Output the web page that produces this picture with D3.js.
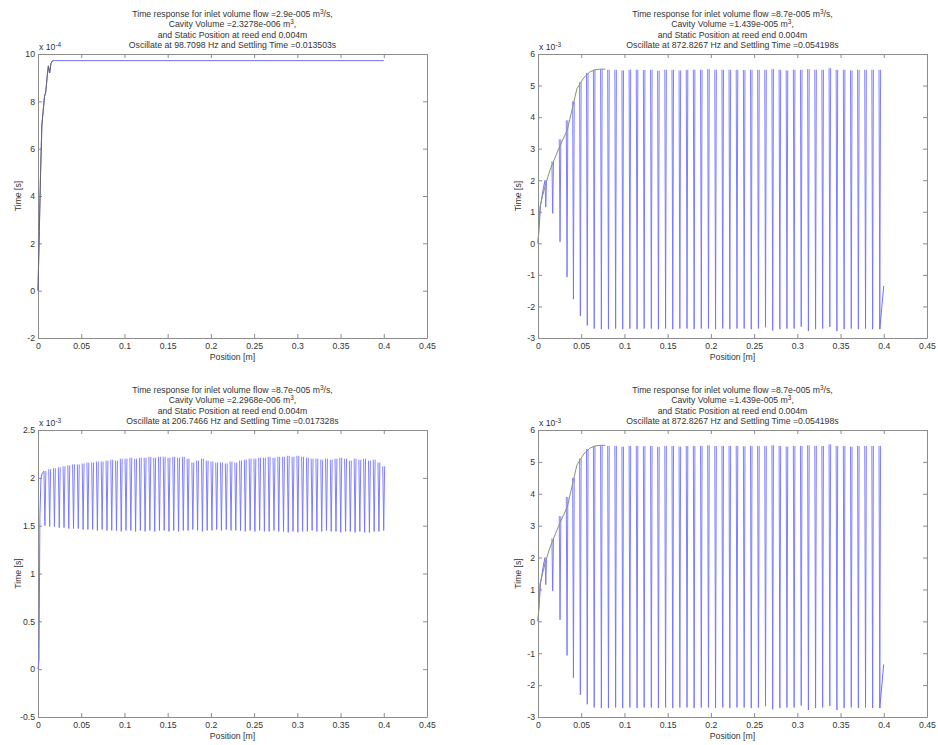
<!DOCTYPE html>
<html>
<head>
<meta charset="utf-8">
<script src="https://cdn.jsdelivr.net/npm/d3@7"></script>
<style>
body { margin: 0; background: #fff; }
text { font-family: "Liberation Sans", Arial, sans-serif; fill: #333; }
.axis path, .axis line { stroke: #8c8c8c; fill: none; }
.axis text { font-size: 8.7px; font-family: "Liberation Sans", Arial, sans-serif; fill: #333; }
</style>
</head>
<body>
<svg id="chart" width="938" height="745"></svg>
<script>
// four matlab-style subplots

// tick values and labels
let xTicks = [0, 0.05, 0.1, 0.15, 0.2, 0.25, 0.3, 0.35, 0.4, 0.45];
let xTickLabels = ["0", "0.05", "0.1", "0.15", "0.2", "0.25", "0.3", "0.35", "0.4", "0.45"];
let tlYTicks = [-2, 0, 2, 4, 6, 8, 10];
let tlYLabels = ["-2", "0", "2", "4", "6", "8", "10"];
let trYTicks = [-3, -2, -1, 0, 1, 2, 3, 4, 5, 6];
let trYLabels = ["-3", "-2", "-1", "0", "1", "2", "3", "4", "5", "6"];
let blYTicks = [-0.5, 0, 0.5, 1, 1.5, 2, 2.5];
let blYLabels = ["-0.5", "0", "0.5", "1", "1.5", "2", "2.5"];

// titles (^{..} = superscript)
let tlTitle = [
    "Time response for inlet volume flow =2.9e-005 m^{3}/s,",
    "Cavity Volume =2.3278e-006 m^{3},",
    "and Static Position at reed end 0.004m",
    "Oscillate at 98.7098 Hz and Settling Time =0.013503s"
];
let trTitle = [
    "Time response for inlet volume flow =8.7e-005 m^{3}/s,",
    "Cavity Volume =1.439e-005 m^{3},",
    "and Static Position at reed end 0.004m",
    "Oscillate at 872.8267 Hz and Settling Time =0.054198s"
];
let blTitle = [
    "Time response for inlet volume flow =8.7e-005 m^{3}/s,",
    "Cavity Volume =2.2968e-006 m^{3},",
    "and Static Position at reed end 0.004m",
    "Oscillate at 206.7466 Hz and Settling Time =0.017328s"
];

// top-left: response (x 1e-4)
let tlBlueX = [0, 0.0015, 0.003, 0.0045, 0.006, 0.0075, 0.009, 0.0105, 0.012, 0.0135, 0.015, 0.0165, 0.018, 0.4];
let tlBlueY = [0, 2.5, 5.0, 7.0, 7.6, 8.2, 8.4, 9.0, 9.5, 9.2, 9.6, 9.7, 9.72, 9.72];
let tlEnvX = [0, 0.0015, 0.003, 0.0045, 0.006, 0.0075, 0.009, 0.0105, 0.012, 0.0135, 0.015, 0.0165, 0.018];
let tlEnvY = [0, 2.5, 5.0, 7.0, 7.6, 8.2, 8.4, 9.0, 9.5, 9.2, 9.6, 9.7, 9.72];

// top-right / bottom-right: oscillation spikes (x 1e-3)
let trSpikeX = [0.0090, 0.0170, 0.0255, 0.0336, 0.0410, 0.0490, 0.0570,
    0.0650, 0.0733, 0.0815, 0.0898, 0.0980, 0.1063, 0.1146, 0.1228, 0.1311, 0.1393,
    0.1476, 0.1559, 0.1641, 0.1724, 0.1806, 0.1889, 0.1972, 0.2054, 0.2137, 0.2219,
    0.2302, 0.2385, 0.2467, 0.2550, 0.2632, 0.2715, 0.2798, 0.2880, 0.2963, 0.3045,
    0.3128, 0.3211, 0.3293, 0.3376, 0.3458, 0.3541, 0.3624, 0.3706, 0.3789, 0.3871, 0.3954];
let trSpikeTop = [2.0, 2.6, 3.3, 3.9, 4.5, 5.1, 5.4,
    5.5, 5.52, 5.5, 5.5, 5.48, 5.5, 5.5, 5.49, 5.5, 5.47,
    5.5, 5.5, 5.48, 5.5, 5.5, 5.5, 5.52, 5.5, 5.5, 5.5,
    5.5, 5.49, 5.5, 5.5, 5.5, 5.52, 5.5, 5.48, 5.5, 5.5,
    5.52, 5.5, 5.5, 5.55, 5.5, 5.5, 5.48, 5.5, 5.5, 5.5, 5.5];
let trSpikeBot = [1.15, 0.95, 0.05, -1.07, -1.77, -2.3, -2.6,
    -2.7, -2.72, -2.72, -2.7, -2.72, -2.7, -2.72, -2.7, -2.7, -2.72,
    -2.7, -2.72, -2.7, -2.7, -2.72, -2.7, -2.7, -2.72, -2.7, -2.72,
    -2.7, -2.7, -2.72, -2.7, -2.66, -2.76, -2.72, -2.7, -2.7, -2.64,
    -2.78, -2.72, -2.7, -2.65, -2.78, -2.72, -2.7, -2.72, -2.7, -2.72, -2.72];
let trRiseX = [0, 0.003, 0.0065, 0.0082];
let trRiseY = [0, 1.2, 1.8, 2.0];
let trTailX = [0.3954, 0.3999];
let trTailY = [-2.72, -1.35];
let trEnvX = [0, 0.0023, 0.008, 0.014, 0.024, 0.034, 0.045, 0.053, 0.06, 0.066, 0.072, 0.078];
let trEnvY = [0, 1.17, 1.8, 2.33, 3.0, 3.6, 4.9, 5.25, 5.43, 5.5, 5.52, 5.52];

// bottom-left: oscillation spikes (x 1e-3)
let blSpikeX = [0.0080, 0.0135, 0.0190, 0.0246, 0.0301, 0.0356, 0.0411, 0.0466, 0.0522, 0.0577,
    0.0632, 0.0687, 0.0742, 0.0798, 0.0853, 0.0908, 0.0963, 0.1018, 0.1074, 0.1129,
    0.1184, 0.1239, 0.1294, 0.1350, 0.1405, 0.1460, 0.1515, 0.1570, 0.1626, 0.1681,
    0.1736, 0.1791, 0.1846, 0.1902, 0.1957, 0.2012, 0.2067, 0.2122, 0.2178, 0.2233,
    0.2288, 0.2343, 0.2398, 0.2454, 0.2509, 0.2564, 0.2619, 0.2674, 0.2730, 0.2785,
    0.2840, 0.2895, 0.2950, 0.3006, 0.3061, 0.3116, 0.3171, 0.3226, 0.3282, 0.3337,
    0.3392, 0.3447, 0.3502, 0.3558, 0.3613, 0.3668, 0.3723, 0.3778, 0.3834, 0.3889,
    0.3944, 0.3999];
let blSpikeTop = [2.07, 2.09, 2.10, 2.11, 2.12, 2.13, 2.14, 2.14, 2.15, 2.16,
    2.16, 2.17, 2.17, 2.18, 2.19, 2.18, 2.2, 2.2, 2.21, 2.2,
    2.21, 2.21, 2.22, 2.21, 2.22, 2.22, 2.21, 2.22, 2.21, 2.22,
    2.2, 2.16, 2.18, 2.2, 2.18, 2.17, 2.16, 2.16, 2.15, 2.17,
    2.16, 2.18, 2.19, 2.2, 2.2, 2.21, 2.21, 2.22, 2.21, 2.22,
    2.22, 2.23, 2.22, 2.23, 2.22, 2.21, 2.2, 2.2, 2.19, 2.2,
    2.19, 2.2, 2.21, 2.2, 2.18, 2.2, 2.19, 2.2, 2.18, 2.19,
    2.16, 2.12];
let blSpikeBot = [1.5, 1.49, 1.49, 1.48, 1.48, 1.47, 1.47, 1.47, 1.46, 1.46,
    1.46, 1.45, 1.46, 1.45, 1.45, 1.45, 1.44, 1.45, 1.45, 1.44,
    1.45, 1.44, 1.45, 1.44, 1.45, 1.45, 1.44, 1.45, 1.44, 1.45,
    1.45, 1.46, 1.45, 1.44, 1.45, 1.45, 1.46, 1.45, 1.46, 1.45,
    1.45, 1.45, 1.44, 1.45, 1.44, 1.45, 1.44, 1.44, 1.45, 1.44,
    1.44, 1.43, 1.44, 1.43, 1.44, 1.44, 1.45, 1.44, 1.44, 1.45,
    1.44, 1.44, 1.43, 1.44, 1.44, 1.43, 1.44, 1.43, 1.43, 1.44,
    1.44, 1.45];
let blRiseX = [0, 0.0012, 0.0022, 0.0035, 0.0050, 0.0070];
let blRiseY = [0, 0.1, 1.6, 2.0, 2.05, 2.07];

let blue = "#7272ff";
let envColor = "#8c9472";

let svg = d3.select("#chart");

function addText(sel, str) {
    // split "^{..}" into superscript tspans
    let parts = str.split(/\^\{(.*?)\}/);
    parts.forEach(function(p, i) {
        if (i % 2 === 1) {
            sel.append("tspan").attr("dy", -3.5).attr("font-size", "6.5px").text(p);
        } else if (p.length) {
            sel.append("tspan").attr("dy", i > 0 ? 3.5 : 0).text(p);
        }
    });
}

function drawPanel(cfg) {
    let g = svg.append("g")
        .attr("transform", "translate(" + cfg.left + "," + cfg.top + ")");

    let x = d3.scaleLinear().domain([0, 0.45]).range([0, cfg.width]);
    let y = d3.scaleLinear().domain(cfg.yDomain).range([cfg.height, 0]);

    // box + inward ticks
    g.append("g").attr("class", "axis")
        .attr("transform", "translate(0," + cfg.height + ")")
        .call(d3.axisBottom(x).tickValues(xTicks).tickSizeInner(-4).tickSizeOuter(0).tickPadding(5)
            .tickFormat((d, i) => xTickLabels[i]));
    g.append("g").attr("class", "axis")
        .call(d3.axisTop(x).tickValues(xTicks).tickSizeInner(-4).tickSizeOuter(0).tickFormat(""));
    g.append("g").attr("class", "axis")
        .call(d3.axisLeft(y).tickValues(cfg.yTicks).tickSizeInner(-4).tickSizeOuter(0).tickPadding(3)
            .tickFormat((d, i) => cfg.yLabels[i]));
    g.append("g").attr("class", "axis")
        .attr("transform", "translate(" + cfg.width + ",0)")
        .call(d3.axisRight(y).tickValues(cfg.yTicks).tickSizeInner(-4).tickSizeOuter(0).tickFormat(""));

    // exponent
    let ex = g.append("text").attr("x", 1).attr("y", -4).attr("font-size", "8.7px");
    addText(ex, "x 10^{" + cfg.exp + "}");

    // title
    cfg.title.forEach(function(line, i) {
        let t = g.append("text")
            .attr("x", cfg.width / 2)
            .attr("y", -37 + i * 10.4)
            .attr("text-anchor", "middle")
            .attr("font-size", "8.7px");
        addText(t, line);
    });

    g.append("text")
        .attr("x", cfg.width / 2)
        .attr("y", cfg.height + 22)
        .attr("text-anchor", "middle")
        .attr("font-size", "8.7px")
        .text("Position [m]");

    g.append("text")
        .attr("transform", "translate(-17," + (cfg.height / 2) + ") rotate(-90)")
        .attr("text-anchor", "middle")
        .attr("font-size", "8.7px")
        .text("Time [s]");

    return {g: g, x: x, y: y};
}

function drawLine(p, xs, ys, color) {
    let line = d3.line().x(d => p.x(d[0])).y(d => p.y(d[1]));
    p.g.append("path")
        .datum(xs.map((v, i) => [v, ys[i]]))
        .attr("d", line)
        .attr("fill", "none")
        .attr("stroke", color)
        .attr("stroke-width", 1);
}

function drawSpikes(p, xs, tops, bots, hw) {
    let line = d3.line().x(d => p.x(d[0])).y(d => p.y(d[1]));
    p.g.append("g").selectAll("path")
        .data(xs.map((v, i) => [[v - hw, tops[i]], [v, bots[i]], [v + hw, tops[i]]]))
        .join("path")
        .attr("d", line)
        .attr("fill", "none")
        .attr("stroke", blue)
        .attr("stroke-width", 0.9);
}

let tl = drawPanel({left: 38, top: 54, width: 389, height: 284, yDomain: [-2, 10],
    yTicks: tlYTicks, yLabels: tlYLabels, exp: "-4", title: tlTitle});
drawLine(tl, tlBlueX, tlBlueY, blue);
drawLine(tl, tlEnvX, tlEnvY, "#666");

let tr = drawPanel({left: 538, top: 54, width: 389, height: 284, yDomain: [-3, 6],
    yTicks: trYTicks, yLabels: trYLabels, exp: "-3", title: trTitle});
drawLine(tr, trRiseX, trRiseY, blue);
drawSpikes(tr, trSpikeX, trSpikeTop, trSpikeBot, 0.0009);
drawLine(tr, trTailX, trTailY, blue);
drawLine(tr, trEnvX, trEnvY, envColor);

let bl = drawPanel({left: 38, top: 430, width: 389, height: 287, yDomain: [-0.5, 2.5],
    yTicks: blYTicks, yLabels: blYLabels, exp: "-3", title: blTitle});
drawLine(bl, blRiseX, blRiseY, blue);
drawSpikes(bl, blSpikeX, blSpikeTop, blSpikeBot, 0.0011);

let br = drawPanel({left: 538, top: 430, width: 389, height: 287, yDomain: [-3, 6],
    yTicks: trYTicks, yLabels: trYLabels, exp: "-3", title: trTitle});
drawLine(br, trRiseX, trRiseY, blue);
drawSpikes(br, trSpikeX, trSpikeTop, trSpikeBot, 0.0009);
drawLine(br, trTailX, trTailY, blue);
drawLine(br, trEnvX, trEnvY, envColor);
</script>
</body>
</html>
